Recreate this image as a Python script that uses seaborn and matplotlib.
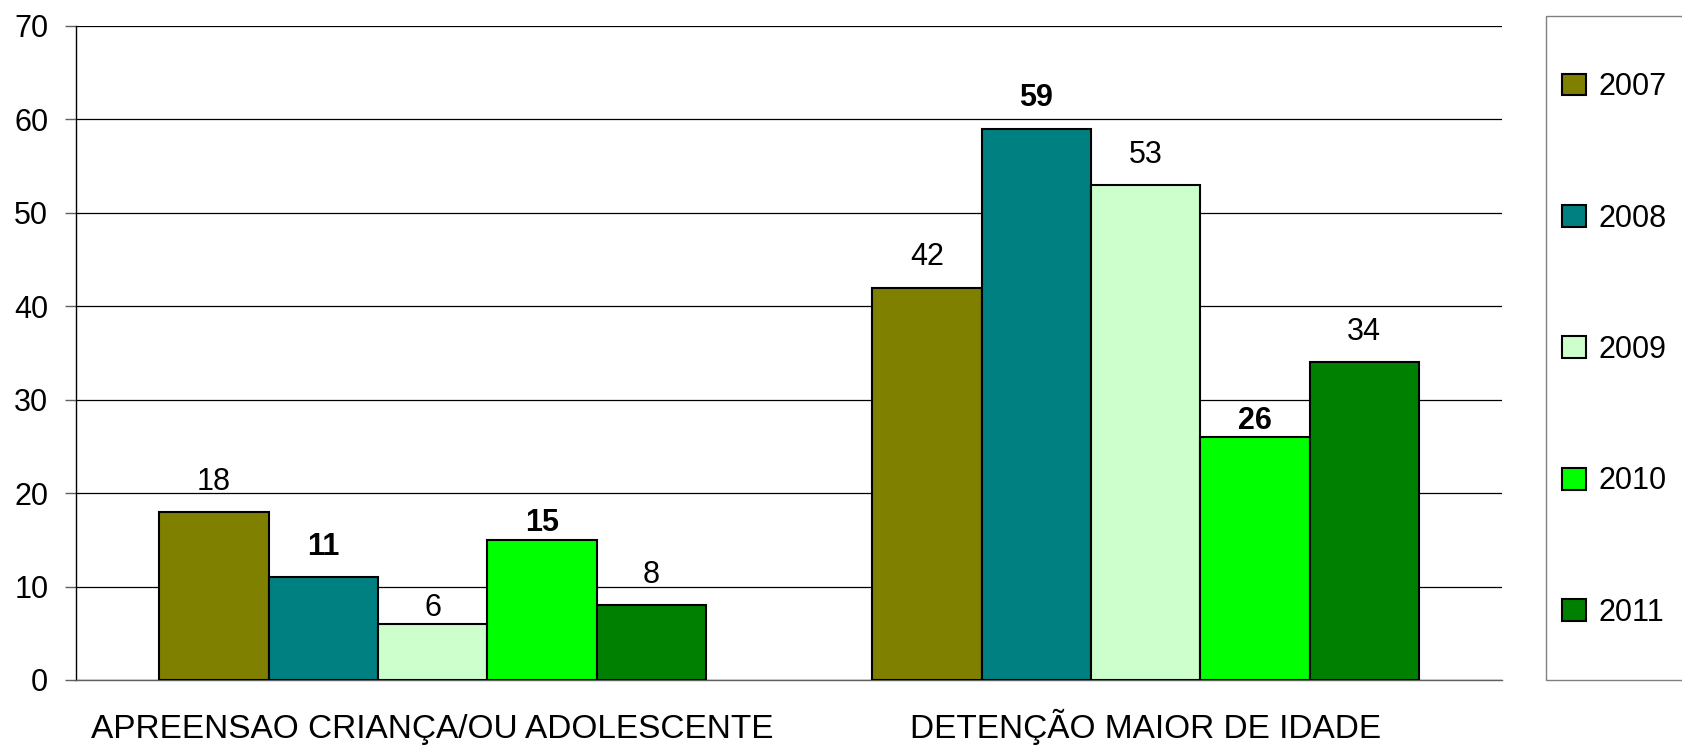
import pandas as pd
import matplotlib
matplotlib.use("Agg")
import matplotlib.pyplot as plt
from matplotlib.patches import Rectangle
import seaborn as sns

categorias = ["APREENSAO CRIANÇA/OU ADOLESCENTE", "DETENÇÃO MAIOR DE IDADE"]
anos = ["2007", "2008", "2009", "2010", "2011"]
valores_apreensao = [18, 11, 6, 15, 8]
valores_detencao = [42, 59, 53, 26, 34]
cores = ["#808000", "#008080", "#CCFFCC", "#00FF00", "#008000"]
anos_negrito = ["2008", "2010"]

# rotulos que no original ficam mais perto da barra (ano, indice da categoria)
rotulos_baixos = [("2009", 0), ("2010", 0), ("2010", 1)]


def main():
    linhas = []
    for ano, v1, v2 in zip(anos, valores_apreensao, valores_detencao):
        linhas.append({"categoria": categorias[0], "ano": ano, "valor": v1})
        linhas.append({"categoria": categorias[1], "ano": ano, "valor": v2})
    df = pd.DataFrame(linhas)

    sns.set_style("white")
    plt.rcParams["font.family"] = ["Liberation Sans", "DejaVu Sans"]
    plt.rcParams["text.color"] = "black"

    fig = plt.figure(figsize=(16.83, 7.47), dpi=100)
    ax = fig.add_axes([0.0452, 0.0897, 0.8473, 0.8755])

    sns.barplot(data=df, x="categoria", y="valor", hue="ano", hue_order=anos,
                order=categorias, palette=cores, edgecolor="black", linewidth=1.5,
                width=0.767, gap=0, saturation=1, ax=ax, zorder=3)

    ax.set_ylim(0, 70)
    ax.set_xlim(-0.5, 1.5)
    ax.set_yticks(range(0, 71, 10))
    ax.yaxis.grid(True, color="black", linewidth=0.9, zorder=0)
    ax.set_axisbelow(True)

    for ano, cont in zip(anos, ax.containers):
        peso = "bold" if ano in anos_negrito else "normal"
        for i, barra in enumerate(cont.patches):
            desloc = 1 if (ano, i) in rotulos_baixos else 11
            ax.annotate(f"{barra.get_height():.0f}",
                        (barra.get_x() + barra.get_width() / 2, barra.get_height()),
                        xytext=(0, desloc), textcoords="offset points",
                        ha="center", va="bottom", fontsize=22, fontweight=peso,
                        color="black")

    ax.set_xlabel("")
    ax.set_ylabel("")
    ax.set_xticks([-0.5, 0.5, 1.5], minor=True)
    ax.tick_params(axis="x", which="major", length=0, pad=42, labelsize=24,
                   labelcolor="black")
    ax.tick_params(axis="x", which="minor", length=8, color="#606060", width=1)
    ax.tick_params(axis="y", length=8, color="#606060", width=1, pad=12, labelsize=22,
                   left=True, labelcolor="black")
    for lbl in ax.get_xticklabels():
        lbl.set_verticalalignment("baseline")

    for lado in ["top", "right"]:
        ax.spines[lado].set_visible(False)
    ax.spines["left"].set_color("black")
    ax.spines["left"].set_linewidth(1)
    ax.spines["bottom"].set_color("#606060")
    ax.spines["bottom"].set_linewidth(1)

    # caixa da legenda (sai pela borda direita, como no original)
    fig.patches.append(Rectangle((1546 / 1683, 1 - 680 / 747), 0.2, 664 / 747,
                                 transform=fig.transFigure, facecolor="white",
                                 edgecolor="#808080", linewidth=1, zorder=0))

    handles, labels = ax.get_legend_handles_labels()
    ax.get_legend().remove()
    leg = fig.legend(handles, labels, loc="center left",
                     bbox_to_anchor=(1562 / 1683, 1 - 350 / 747), fontsize=22,
                     frameon=False, labelspacing=3.32, borderpad=0,
                     handlelength=0.78, handleheight=0.72, handletextpad=0.42,
                     borderaxespad=0)
    for h in leg.legend_handles:
        h.set_edgecolor("black")
        h.set_linewidth(1.5)

    fig.savefig("out.png", dpi=100)


if __name__ == "__main__":
    main()
